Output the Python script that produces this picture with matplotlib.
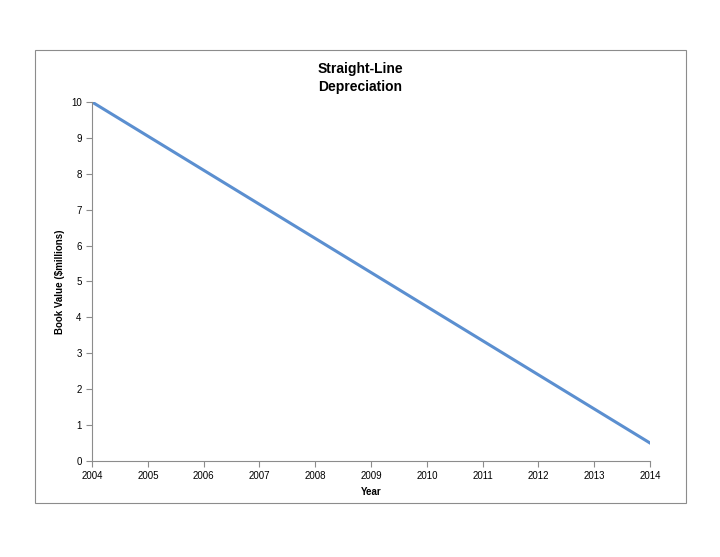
import matplotlib; matplotlib.use("Agg")
import matplotlib.pyplot as plt
from matplotlib.patches import Rectangle

years = [2004, 2005, 2006, 2007, 2008, 2009, 2010, 2011, 2012, 2013, 2014]
book_value = [10.0, 9.05, 8.1, 7.15, 6.2, 5.25, 4.3, 3.35, 2.4, 1.45, 0.5]

plt.rcParams["font.family"] = ["Liberation Sans", "DejaVu Sans"]

fig = plt.figure(figsize=(7.2, 5.57), dpi=100)
fig.patch.set_facecolor("white")
# outer chart-area border
fig.patches.append(Rectangle((0.0486, 0.097), 0.9042, 0.813, transform=fig.transFigure,
                             fill=False, edgecolor="#8c8c8c", lw=0.8))

ax = fig.add_axes([0.1278, 0.1724, 0.775, 0.6445])
ax.plot(years, book_value, color="#5b8fd0", lw=2.2)
ax.set_xlim(2004, 2014)
ax.set_ylim(0, 10)
ax.set_xticks(years)
ax.set_yticks(range(0, 11))
ax.tick_params(labelsize=7, length=4, color="#8c8c8c", width=0.8)
for s in ["top", "right"]:
    ax.spines[s].set_visible(False)
for s in ["left", "bottom"]:
    ax.spines[s].set_color("#8c8c8c")
    ax.spines[s].set_linewidth(0.8)
ax.set_xlabel("Year", fontsize=7, fontweight="bold")
ax.set_ylabel("Book Value ($millions)", fontsize=7, fontweight="bold")
fig.text(0.5, 0.86, "Straight-Line\nDepreciation", ha="center", va="center",
         fontsize=10, fontweight="bold", linespacing=1.3)

fig.savefig("out.png", dpi=100, facecolor="white")
